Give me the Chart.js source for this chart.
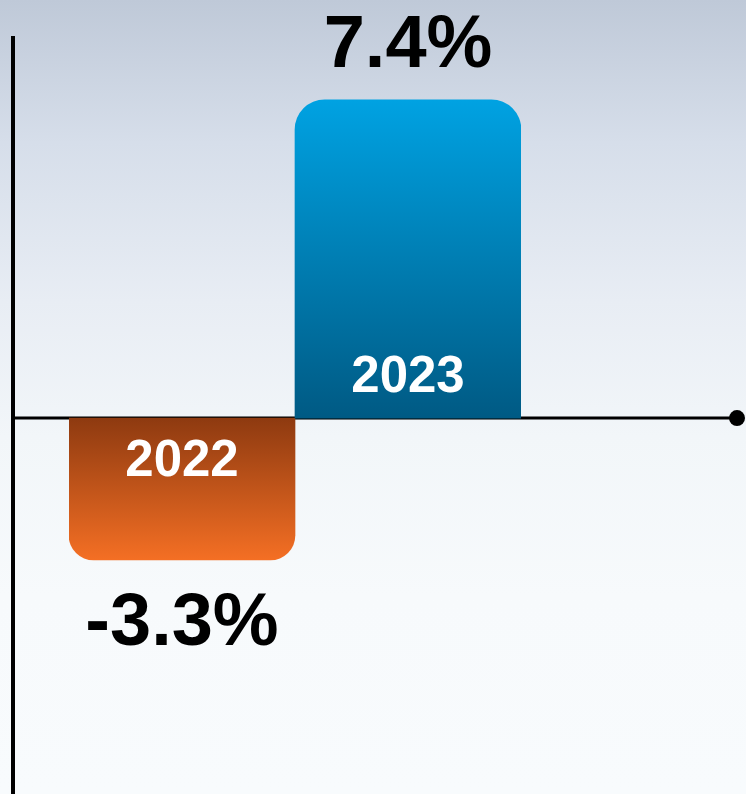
<!DOCTYPE html>
<html>
<head>
<meta charset="utf-8">
<script src="https://cdn.jsdelivr.net/npm/chart.js@4.4.0/dist/chart.umd.min.js"></script>
<style>
  html, body { margin: 0; padding: 0; }
  body {
    width: 746px; height: 794px; overflow: hidden;
    background: linear-gradient(to bottom, #bfc9d8 0%, #d6deea 18%, #e8edf4 38%, #f2f6f9 55%, #f7fafc 75%, #f8fbfd 100%);
  }
  #wrap { position: relative; width: 746px; height: 794px; }
</style>
</head>
<body>
<div id="wrap"><canvas id="growthChart"></canvas></div>
<script>
// data
const categories = ['2022', '2023'];
const growthValues = [-3.3, 7.4];
const valueLabels = ['-3.3%', '7.4%'];

// gradient colours per bar: [colour at zero line, colour at bar end]
const barColors = [
    ['#8e3a10', '#f46f24'],
    ['#005a84', '#00a2e2']
];

// axes + dot drawn behind the bars
const axisLines = {
    id: 'axisLines',
    beforeDatasetsDraw(chart) {
        const ctx = chart.ctx;
        const yZero = chart.scales.y.getPixelForValue(0);
        ctx.save();
        ctx.strokeStyle = '#000';
        ctx.lineWidth = 4;
        ctx.beginPath();
        ctx.moveTo(13, 36);
        ctx.lineTo(13, chart.height);
        ctx.stroke();
        ctx.lineWidth = 3;
        ctx.beginPath();
        ctx.moveTo(13, yZero);
        ctx.lineTo(737, yZero);
        ctx.stroke();
        ctx.fillStyle = '#000';
        ctx.beginPath();
        ctx.arc(737, yZero, 8, 0, Math.PI * 2);
        ctx.fill();
        ctx.restore();
    }
};

// value labels outside the bars, year labels inside near the zero line
const barLabels = {
    id: 'barLabels',
    afterDatasetsDraw(chart) {
        const ctx = chart.ctx;
        const meta = chart.getDatasetMeta(0);
        ctx.save();
        ctx.textAlign = 'center';
        ctx.textBaseline = 'alphabetic';
        meta.data.forEach((bar, i) => {
            const positive = growthValues[i] >= 0;
            // value text
            ctx.fillStyle = '#000';
            ctx.font = 'bold 74px "Liberation Sans", Arial, sans-serif';
            if (positive) {
                ctx.fillText(valueLabels[i], bar.x, bar.y - 33);
            } else {
                ctx.fillText(valueLabels[i], bar.x, bar.y + 85);
            }
            // year text
            ctx.fillStyle = '#fff';
            ctx.font = 'bold 51px "Liberation Sans", Arial, sans-serif';
            if (positive) {
                ctx.fillText(categories[i], bar.x, bar.base - 26);
            } else {
                ctx.fillText(categories[i], bar.x, bar.base + 58);
            }
        });
        ctx.restore();
    }
};

const chartCanvas = document.getElementById('growthChart');

new Chart(chartCanvas, {
    type: 'bar',
    data: {
        labels: categories,
        datasets: [{
            data: growthValues,
            borderWidth: 0,
            borderRadius: [25, 30],
            borderSkipped: 'start',
            barPercentage: 1,
            categoryPercentage: 1,
            backgroundColor: (c) => {
                const area = c.chart.chartArea;
                if (!area) return barColors[c.dataIndex][1];
                const y = c.chart.scales.y;
                const zero = y.getPixelForValue(0);
                const end = y.getPixelForValue(growthValues[c.dataIndex]);
                const g = c.chart.ctx.createLinearGradient(0, zero, 0, end);
                g.addColorStop(0, barColors[c.dataIndex][0]);
                g.addColorStop(1, barColors[c.dataIndex][1]);
                return g;
            }
        }]
    },
    options: {
        responsive: true,
        maintainAspectRatio: false,
        animation: false,
        layout: { padding: { left: 69, right: 225, top: 0, bottom: 0 } },
        plugins: { legend: { display: false }, tooltip: { enabled: false } },
        scales: {
            x: { display: false, offset: true },
            y: { display: false, min: -8.74, max: 9.72 }
        }
    },
    plugins: [axisLines, barLabels]
});
</script>
</body>
</html>
